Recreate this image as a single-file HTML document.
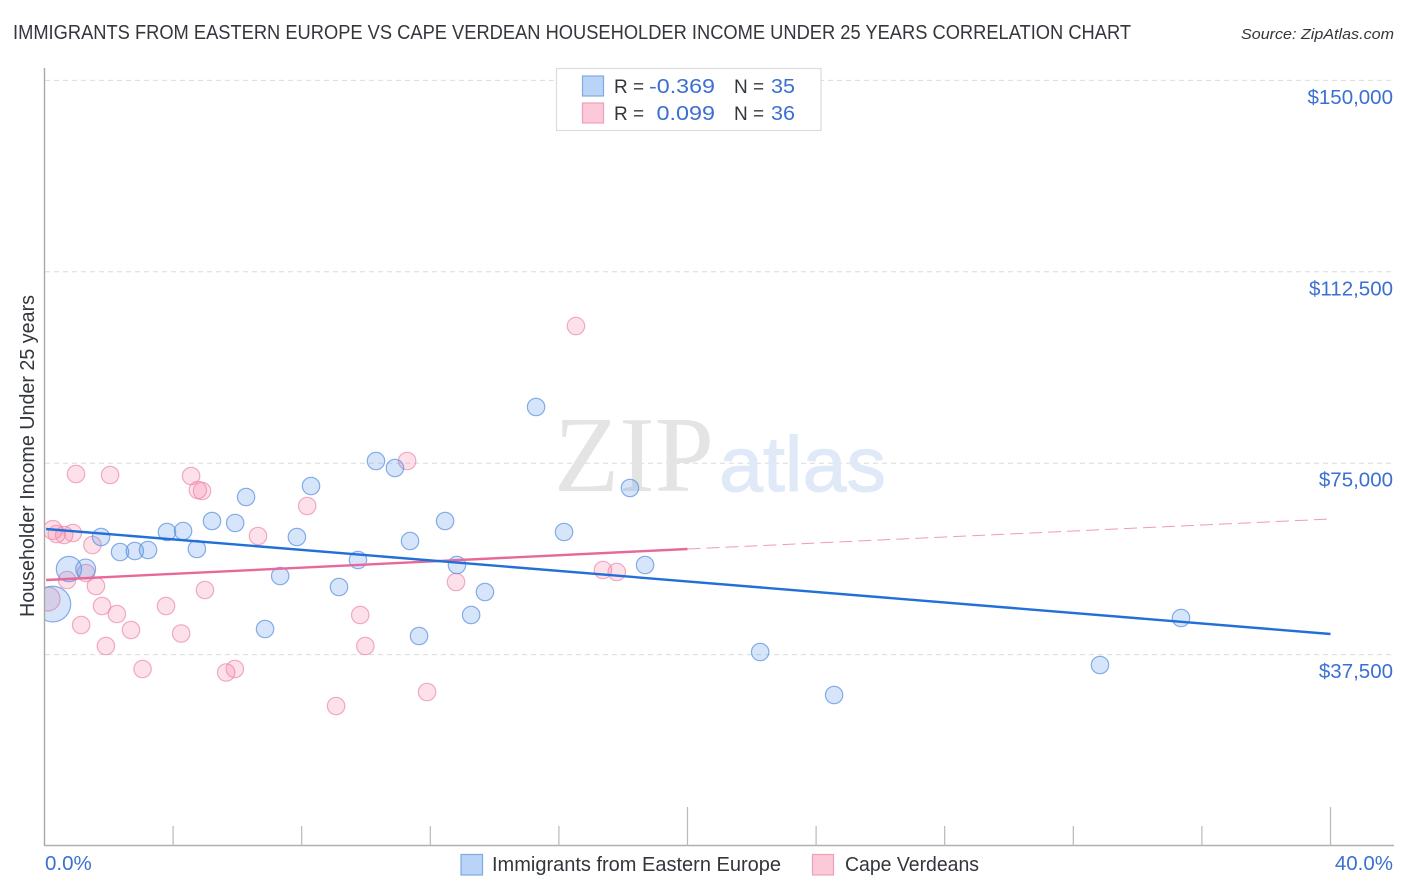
<!DOCTYPE html>
<html lang="en">
<head>
<meta charset="utf-8">
<title>Immigrants from Eastern Europe vs Cape Verdean Householder Income Under 25 Years Correlation Chart</title>
<style>
html,body{margin:0;padding:0;background:#fff;width:1406px;height:892px;overflow:hidden}
svg{display:block;font-family:"Liberation Sans",sans-serif}
</style>
</head>
<body>
<svg id="chart" width="1406" height="892" viewBox="0 0 1406 892" xmlns="http://www.w3.org/2000/svg">
<defs><clipPath id="plot-clip"><rect x="45" y="60" width="1349" height="786"/></clipPath></defs>
<text x="13" y="39" font-size="20" fill="#33373d" textLength="1118" lengthAdjust="spacingAndGlyphs">IMMIGRANTS FROM EASTERN EUROPE VS CAPE VERDEAN HOUSEHOLDER INCOME UNDER 25 YEARS CORRELATION CHART</text>
<text x="1241" y="39" font-size="15" font-style="italic" fill="#33363b" textLength="153" lengthAdjust="spacingAndGlyphs">Source: ZipAtlas.com</text>
<g id="grid"></g>
<g>
<text x="554" y="491" font-family="'Liberation Serif',serif" font-size="108" fill="#e4e4e4" textLength="160" lengthAdjust="spacingAndGlyphs">ZIP</text>
<text x="719" y="491" font-size="78" fill="#e0e9f8" stroke="#e0e9f8" stroke-width="1" textLength="167" lengthAdjust="spacingAndGlyphs">atlas</text>
</g>
<g id="points" clip-path="url(#plot-clip)"></g>
<g id="lines"></g>
<g id="axes"></g>
<text transform="translate(34,456) rotate(-90)" text-anchor="middle" font-size="20" fill="#33373d" textLength="322" lengthAdjust="spacingAndGlyphs">Householder Income Under 25 years</text>
<g>
<rect x="556.5" y="68.5" width="264.5" height="62" fill="#fff" stroke="#dcdcdc" stroke-width="1.2"/>
<rect x="582.5" y="76" width="21" height="20" fill="#b9d4f7" stroke="#7fa9e3" stroke-width="1.2"/>
<rect x="582.5" y="103" width="21" height="20" fill="#fcc9d9" stroke="#f09fb8" stroke-width="1.2"/>
<g font-size="20.5">
<text x="614" y="93" fill="#33373d" font-size="19">R =</text>
<text x="649" y="93" fill="#3b70d2" textLength="66" lengthAdjust="spacingAndGlyphs">-0.369</text>
<text x="734" y="93" fill="#33373d" font-size="19">N =</text>
<text x="771" y="93" fill="#3b70d2" textLength="24" lengthAdjust="spacingAndGlyphs">35</text>
<text x="614" y="120" fill="#33373d" font-size="19">R =</text>
<text x="656.5" y="120" fill="#3b70d2" textLength="58.5" lengthAdjust="spacingAndGlyphs">0.099</text>
<text x="734" y="120" fill="#33373d" font-size="19">N =</text>
<text x="771" y="120" fill="#3b70d2" textLength="24" lengthAdjust="spacingAndGlyphs">36</text>
</g>
</g>
<g>
<rect x="461" y="854.5" width="21.5" height="20.5" fill="#b9d4f7" stroke="#7fa9e3" stroke-width="1.2"/>
<text x="492" y="871" font-size="20" fill="#33373d" textLength="289" lengthAdjust="spacingAndGlyphs">Immigrants from Eastern Europe</text>
<rect x="812.5" y="854.5" width="21" height="20.5" fill="#fcc9d9" stroke="#f09fb8" stroke-width="1.2"/>
<text x="845" y="871" font-size="20" fill="#33373d" textLength="134" lengthAdjust="spacingAndGlyphs">Cape Verdeans</text>
</g>
</svg>
<script>
var yTickValues = [37500, 75000, 112500, 150000];
var yTickLabels = ["$37,500", "$75,000", "$112,500", "$150,000"];
var xTickValues = [0, 4, 8, 12, 16, 20, 24, 28, 32, 36, 40];
var xEndLabels = ["0.0%", "40.0%"];
var immigrantsX = [0.26,0.76,1.28,1.76,2.35,2.81,3.22,3.81,4.31,4.74,5.21,5.93,6.27,6.86,7.33,7.85,8.29,9.16,9.75,10.31,10.90,11.37,11.65,12.46,12.83,13.27,13.70,15.29,16.16,18.21,18.68,22.26,24.56,32.83,35.35];
var immigrantsY = [47400,54270,54270,60540,57600,57796,57992,61519,61715,58188,63674,63282,68376,42515,52898,60540,70531,50743,56033,75429,74058,59756,41143,63674,55054,45258,49764,86009,61519,70139,55054,38008,29584,35462,44670];
var immigrantsWeight = [4.2,2.1,1.3,1,1,1,1,1,1,1,1,1,1,1,1,1,1,1,1,1,1,1,1,1,1,1,1,1,1,1,1,1,1,1,1];
var capeX = [0.26,0.38,0.61,0.88,0.11,0.70,1.29,1.49,1.60,1.79,2.25,1.14,2.69,1.91,3.05,0.98,2.04,4.56,4.77,4.90,3.78,4.25,4.99,5.65,5.92,6.64,8.17,9.07,9.82,9.98,11.28,11.90,12.80,16.53,17.37,17.80];
var capeY = [61911,61127,60931,61323,48392,52115,53486,58972,50939,47021,45453,43298,42319,39184,34678,72882,72686,72490,69748,69552,47021,41633,50156,33992,34678,60735,66613,27429,45258,39184,75429,30172,51723,101878,54074,53682];
var capeWeight = [1.2,1,1,1,1.9,1,1,1,1,1,1,1,1,1,1,1,1,1,1,1,1,1,1,1,1,1,1,1,1,1,1,1,1,1,1,1];
var immigrantsTrendX = [0.05, 40];
var immigrantsTrendY = [62107, 41535];
var capeTrendX = [0.05, 20];
var capeTrendY = [52115, 58188];
var capeTrendDashX = [20, 40];
var capeTrendDashY = [58188, 64066];

var NS = "http://www.w3.org/2000/svg";
function xScale(v) { return 44.5 + v * 32.15; }
function yScale(v) { return 846 - v * 191.4 / 37500; }
function make(tag, attrs, parent) {
  var el = document.createElementNS(NS, tag);
  for (var k in attrs) { el.setAttribute(k, attrs[k]); }
  parent.appendChild(el);
  return el;
}
var grid = document.getElementById("grid");
var axes = document.getElementById("axes");
var pts = document.getElementById("points");
var lines = document.getElementById("lines");

yTickValues.forEach(function (v, i) {
  var g = make("line", {x1: 45, x2: 1394, y1: yScale(v), y2: yScale(v), stroke: "#dcdcdc", "stroke-width": 1, "stroke-dasharray": "5 4"}, grid);
  
  
  var t = make("text", {x: 1393, y: yScale(v) + 23.5, "text-anchor": "end", "font-size": 20.5, fill: "#3b70d2"}, axes);
  
  
  t.textContent = yTickLabels[i];
});

var yAxis = make("line", {x1: 44.5, x2: 44.5, y1: 68, y2: 846, stroke: "#a8a8a8", "stroke-width": 1.4}, axes);


var xAxis = make("line", {x1: 44, x2: 1394, y1: 845.5, y2: 845.5, stroke: "#b0b0b0", "stroke-width": 1.4}, axes);


xTickValues.forEach(function (v, i) {
  if (i === 0) { return; }
  var major = (v === 20 || v === 40);
  var tick = make("line", {x1: xScale(v), x2: xScale(v), y1: major ? 807 : 826, y2: 846, stroke: "#b8b8b8", "stroke-width": 1.2}, axes);
  
  
});
var x0 = make("text", {x: 45, y: 870, "font-size": 20.5, fill: "#3b70d2"}, axes);


x0.textContent = xEndLabels[0];
var x1 = make("text", {x: 1393, y: 870, "text-anchor": "end", "font-size": 20.5, fill: "#3b70d2"}, axes);


x1.textContent = xEndLabels[1];

capeX.forEach(function (v, i) {
  var c = make("circle", {cx: xScale(v), cy: yScale(capeY[i]), r: 8.7 * Math.sqrt(capeWeight[i]), fill: "#f4789f", "fill-opacity": 0.22, stroke: "#ee8fad", "stroke-opacity": 0.75, "stroke-width": 1.2}, pts);
  
  
});
immigrantsX.forEach(function (v, i) {
  var c = make("circle", {cx: xScale(v), cy: yScale(immigrantsY[i]), r: 8.7 * Math.sqrt(immigrantsWeight[i]), fill: "#5a97e8", "fill-opacity": 0.25, stroke: "#5f93e0", "stroke-opacity": 0.75, "stroke-width": 1.2}, pts);
  
  
});

var dash = make("line", {x1: xScale(capeTrendDashX[0]), y1: yScale(capeTrendDashY[0]), x2: xScale(capeTrendDashX[1]), y2: yScale(capeTrendDashY[1]), stroke: "#e9789f", "stroke-width": 1, "stroke-dasharray": "13 6", "stroke-opacity": 0.75}, lines);


var capeLine = make("line", {x1: xScale(capeTrendX[0]), y1: yScale(capeTrendY[0]), x2: xScale(capeTrendX[1]), y2: yScale(capeTrendY[1]), stroke: "#e8689a", "stroke-width": 2.4}, lines);


var blueLine = make("line", {x1: xScale(immigrantsTrendX[0]), y1: yScale(immigrantsTrendY[0]), x2: xScale(immigrantsTrendX[1]), y2: yScale(immigrantsTrendY[1]), stroke: "#2170d8", "stroke-width": 2.4}, lines);


</script>
</body>
</html>
